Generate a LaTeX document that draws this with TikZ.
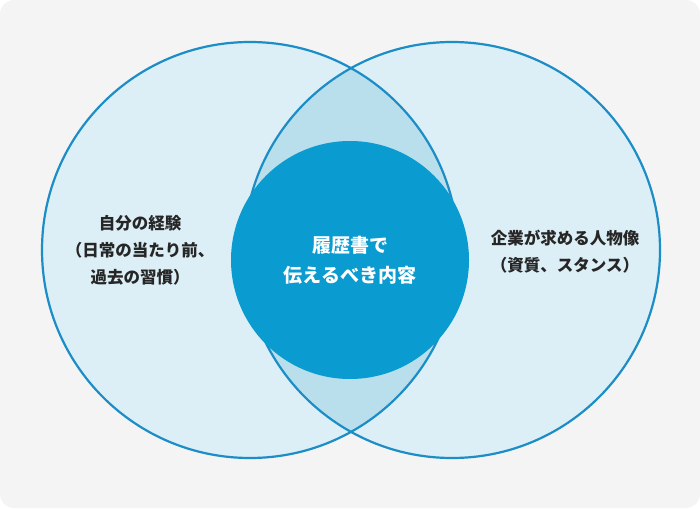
\documentclass[tikz,border=0pt]{standalone}
\usepackage{fontspec}
\newfontfamily\cjk{Noto Sans CJK JP}
\usetikzlibrary{positioning}
\definecolor{bgGray}{HTML}{F4F4F4}
\definecolor{setFill}{HTML}{DCEFF6}
\definecolor{lensFill}{HTML}{B9DFEC}
\definecolor{setLine}{HTML}{1C8DC6}
\definecolor{coreFill}{HTML}{0A9BD0}
\tikzset{set/.style =
   {circle,
    draw=setLine,
    line width=2.2pt,
    minimum size=416pt,
    inner sep=0pt}}
\tikzset{core/.style =
   {circle,
    fill=coreFill,
    minimum size=238pt,
    inner sep=0pt,
    text=white,
    align=center,
    font=\cjk\fontsize{19}{30}\selectfont\bfseries}}
\tikzset{caption/.style =
   {align=center,
    text=black!85,
    font=\cjk\fontsize{16.5}{27}\selectfont\bfseries}}

\begin{document}
\begin{tikzpicture}[x=1pt,y=-1pt]

    \fill [bgGray, rounded corners=14pt] (0,0) rectangle (700,508);
    \useasboundingbox (0,0) rectangle (700,508);

    \fill [setFill] (250,250) circle (208);
    \fill [setFill] (452,250) circle (208);
    \begin{scope}
        \clip (250,250) circle (208);
        \fill [lensFill] (452,250) circle (208);
    \end{scope}

    \node [set] (self) at (250,250) {};
    \node [set] (company) at (452,250) {};

    \node [core] (resume) at (350,260) {履歴書で\\伝えるべき内容};

    \node [caption] (selfText) at (140,250)
        {自分の経験\\（日常の当たり前、\\過去の習慣）};
    \node [caption] (companyText) at (565,252)
        {企業が求める人物像\\（資質、スタンス）};

\end{tikzpicture}
\end{document}
